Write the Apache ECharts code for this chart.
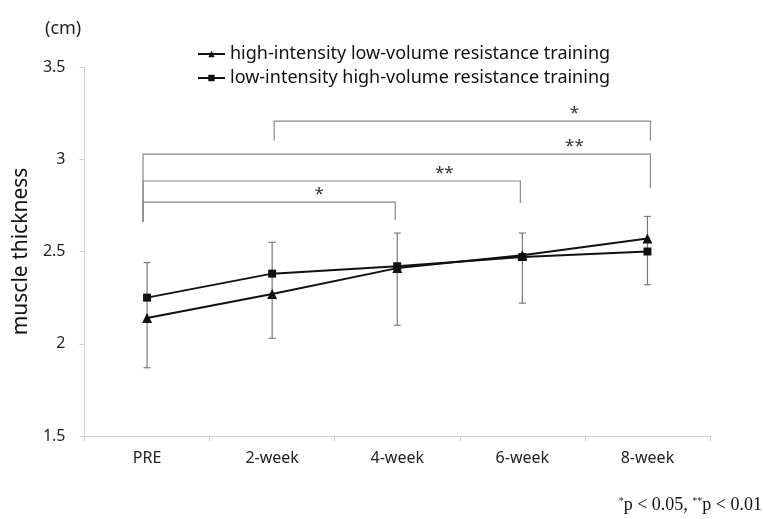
<!DOCTYPE html>
<html><head><meta charset="utf-8">
<script src="https://cdn.jsdelivr.net/npm/echarts@6/dist/echarts.min.js"></script>
<style>html,body{margin:0;padding:0;background:#fff}#c{width:763px;height:519px}</style>
</head><body><div id="c"></div>
<script>
const categories = ['PRE', '2-week', '4-week', '6-week', '8-week'];
const highIntensity = [2.14, 2.27, 2.41, 2.48, 2.57];
const lowIntensity = [2.25, 2.38, 2.42, 2.47, 2.50];
const errLow = [1.87, 2.03, 2.10, 2.22, 2.32];
const errHigh = [2.44, 2.55, 2.60, 2.60, 2.69];
const yTicks = [1.5, 2, 2.5, 3, 3.5];
// brackets: [startIdx, endIdx, level, leftBottom, rightBottom, label]
const brackets = [
  [1, 4, 3.207, 3.10, 3.10, '*'],
  [0, 4, 3.028, 2.66, 2.844, '**'],
  [0, 3, 2.882, 2.66, 2.763, '**'],
  [0, 2, 2.768, 2.66, 2.671, '*']
];
const seriesNames = ['high-intensity low-volume resistance training', 'low-intensity high-volume resistance training'];

const chart = echarts.init(document.getElementById('c'), null, {renderer: 'canvas'});
const font = 'Noto Sans';
chart.setOption({
  animation: false,
  backgroundColor: '#fff',
  title: {text: '(cm)', left: 40, top: 15, textStyle: {fontFamily: font, fontSize: 18, fontWeight: 'normal', color: '#222'}},
  legend: {
    orient: 'vertical', left: 192, top: 40, itemGap: 6, itemWidth: 27, itemHeight: 8,
    textStyle: {fontFamily: font, fontSize: 18, color: '#111'},
    data: seriesNames
  },
  grid: {left: 84.5, right: 53, top: 67, bottom: 83, containLabel: false, outerBoundsMode: 'none'},
  xAxis: {
    type: 'category', data: categories, boundaryGap: true,
    axisLine: {lineStyle: {color: '#d0d0d0'}},
    axisTick: {show: true, length: 5, lineStyle: {color: '#d0d0d0'}},
    axisLabel: {fontFamily: font, fontSize: 16, color: '#222', margin: 14}
  },
  yAxis: {
    type: 'value', min: 1.5, max: 3.5, interval: 0.5,
    name: 'muscle thickness', nameLocation: 'middle', nameRotate: 90, nameGap: 52,
    nameTextStyle: {fontFamily: font, fontSize: 21, color: '#111'},
    splitLine: {show: false},
    axisLine: {show: true, lineStyle: {color: '#d0d0d0'}},
    axisTick: {show: true, length: 5, lineStyle: {color: '#d0d0d0'}},
    axisLabel: {fontFamily: font, fontSize: 16, color: '#222', margin: 19,
      formatter: v => yTicks.includes(v) ? String(v) : ''}
  },
  series: [
    {
      type: 'custom', name: 'err', silent: true, z: 1,
      data: categories.map((c, i) => [i, errLow[i], errHigh[i]]),
      renderItem: (params, api) => {
        const lo = api.coord([api.value(0), api.value(1)]);
        const hi = api.coord([api.value(0), api.value(2)]);
        const cw = 3.5;
        const st = {stroke: '#7a7a7a', lineWidth: 1.2};
        return {type: 'group', children: [
          {type: 'line', shape: {x1: lo[0], y1: lo[1], x2: hi[0], y2: hi[1]}, style: st},
          {type: 'line', shape: {x1: lo[0] - cw, y1: lo[1], x2: lo[0] + cw, y2: lo[1]}, style: st},
          {type: 'line', shape: {x1: hi[0] - cw, y1: hi[1], x2: hi[0] + cw, y2: hi[1]}, style: st}
        ]};
      }
    },
    {
      type: 'line', name: seriesNames[0], data: highIntensity, z: 3,
      symbol: 'triangle', symbolSize: 10, showAllSymbol: true,
      lineStyle: {color: '#111', width: 2}, itemStyle: {color: '#111'}
    },
    {
      type: 'line', name: seriesNames[1], data: lowIntensity, z: 3,
      symbol: 'rect', symbolSize: 8, showAllSymbol: true,
      lineStyle: {color: '#111', width: 2}, itemStyle: {color: '#111'}
    },
    {
      type: 'custom', name: 'brackets', silent: true, z: 2,
      data: brackets.map(b => b.slice(0, 5)),
      renderItem: (params, api) => {
        const b = brackets[params.dataIndex];
        const l = api.coord([b[0], b[2]]);
        const r = api.coord([b[1], b[2]]);
        const lb = api.coord([b[0], b[3]]);
        const rb = api.coord([b[1], b[4]]);
        const lx = l[0] + (b[0] === 0 ? -4 : 2), rx = r[0] + (b[1] === 4 ? 3 : -2);
        const st = {stroke: '#8a8a8a', lineWidth: 1.2, fill: null};
        return {type: 'group', children: [
          {type: 'polyline', shape: {points: [[lx, lb[1]], [lx, l[1]], [rx, r[1]], [rx, rb[1]]]}, style: st},
          {type: 'text', style: {text: b[5], x: rx - 76, y: l[1] + 1, textAlign: 'center', textVerticalAlign: 'bottom',
            fontFamily: font, fontSize: 17, fill: '#333'}}
        ]};
      }
    }
  ],
  graphic: [{
    type: 'text', right: 1, top: 496,
    style: {
      text: '{s|*}{n|p < 0.05, }{s|**}{n|p < 0.01}',
      rich: {
        s: {fontFamily: 'Liberation Serif', fontSize: 10, verticalAlign: 'top', padding: [0, 0, 8, 0], fill: '#111'},
        n: {fontFamily: 'Liberation Serif', fontSize: 18, fill: '#111'}
      }
    }
  }]
});
</script>
</body></html>
